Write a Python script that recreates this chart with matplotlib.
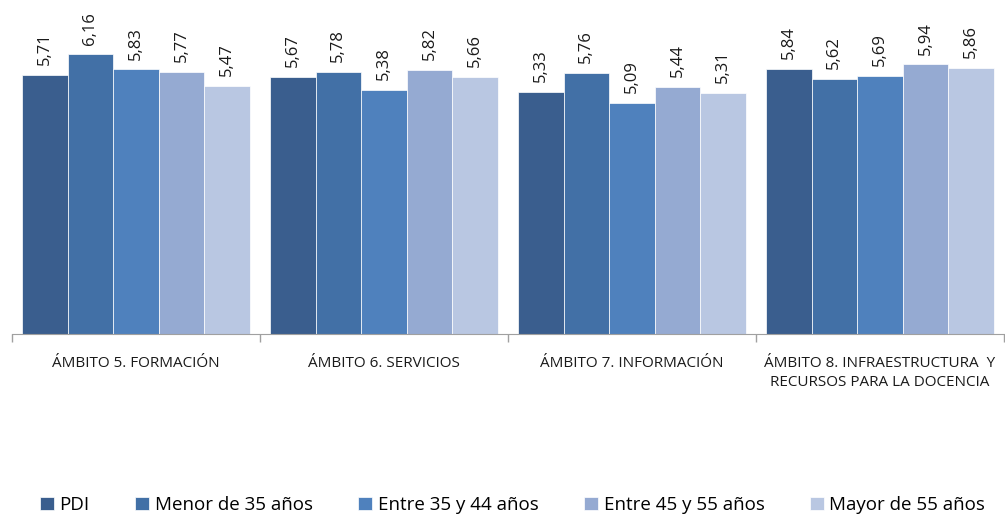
import matplotlib.pyplot as plt
import numpy as np

plt.rcParams['font.family'] = ['Open Sans', 'DejaVu Sans']

# Data
categories = ['ÁMBITO 5. FORMACIÓN', 'ÁMBITO 6. SERVICIOS', 'ÁMBITO 7. INFORMACIÓN',
              'ÁMBITO 8. INFRAESTRUCTURA  Y\nRECURSOS PARA LA DOCENCIA']
series_names = ['PDI', 'Menor de 35 años', 'Entre 35 y 44 años', 'Entre 45 y 55 años', 'Mayor de 55 años']
pdi = [5.71, 5.67, 5.33, 5.84]
menor35 = [6.16, 5.78, 5.76, 5.62]
entre35_44 = [5.83, 5.38, 5.09, 5.69]
entre45_55 = [5.77, 5.82, 5.44, 5.94]
mayor55 = [5.47, 5.66, 5.31, 5.86]
colors = ['#3A5E8E', '#4270A6', '#4F81BD', '#95AAD2', '#B9C7E2']

series = [pdi, menor35, entre35_44, entre45_55, mayor55]

fig = plt.figure(figsize=(10.05, 5.18), dpi=100)
ax = fig.add_axes([12 / 1005, (518 - 334) / 518, 992 / 1005, 324 / 518])

x = np.arange(len(categories))
width = 0.184
for i, (vals, name, c) in enumerate(zip(series, series_names, colors)):
    bars = ax.bar(x + (i - 2) * width, vals, width, color=c, label=name,
                  edgecolor='white', linewidth=0.5)
    for b, v in zip(bars, vals):
        ax.annotate(f'{v:.2f}'.replace('.', ','),
                    (b.get_x() + b.get_width() / 2, v),
                    xytext=(0, 7), textcoords='offset points',
                    rotation=90, ha='center', va='bottom', fontsize=12, color='#1a1a1a')

ax.set_xlim(-0.5, 3.5)
ax.set_ylim(0, 7.14)

# Spines / ticks
for s in ['top', 'right', 'left']:
    ax.spines[s].set_visible(False)
ax.spines['bottom'].set_color('#A0A0A0')
ax.set_yticks([])
ax.set_xticks(x)
ax.set_xticklabels(categories, fontsize=11, color='#1a1a1a', linespacing=1.4, va='top')
ax.tick_params(axis='x', which='major', length=0, pad=15.5)
ax.set_xticks(np.arange(-0.5, 4, 1), minor=True)
ax.tick_params(axis='x', which='minor', length=6, color='#A0A0A0', width=1)

fig.legend(loc='center', bbox_to_anchor=(0.51, 1 - 505 / 518), ncol=5, frameon=False,
           fontsize=13.5, handlelength=0.75, handleheight=0.75, handletextpad=0.3,
           columnspacing=2.42)

fig.savefig('out.png', dpi=100)
